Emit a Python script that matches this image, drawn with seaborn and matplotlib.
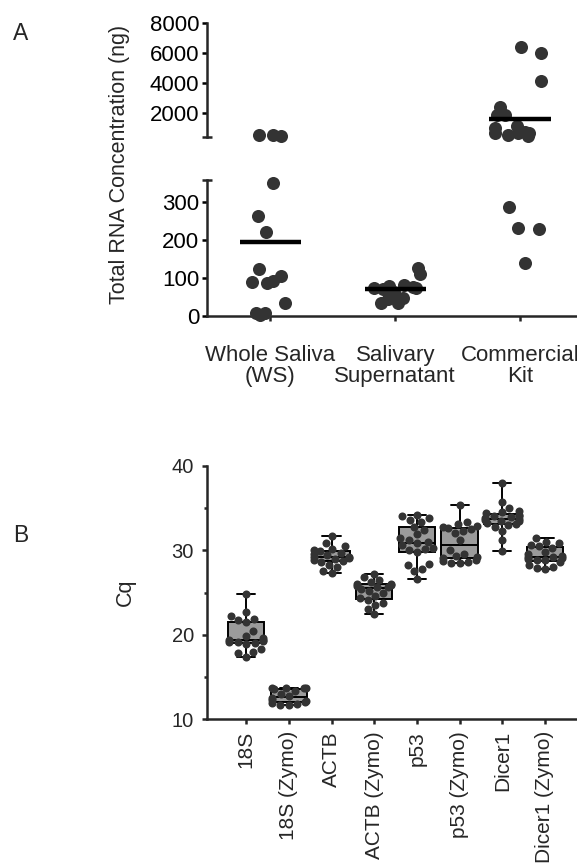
import numpy as np
import pandas as pd
import matplotlib
matplotlib.use("Agg")
import matplotlib.pyplot as plt
import seaborn as sns

# ---------------- data: panel A ----------------
groups = ["Whole Saliva\n(WS)", "Salivary\nSupernatant", "Commercial\nKit"]
ws_vals = [350, 264, 222, 124, 106, 88, 90, 93, 33, 3, 9, 9, 540, 470, 520]
ss_vals = [126, 111, 82, 73, 77, 80, 75, 47, 35, 44, 35, 58, 64, 70]
ck_vals = [287, 231, 229, 139, 6440, 6000, 4170, 2400, 1890, 1890, 1150,
           710, 670, 490, 560, 670, 780, 1050]
upper_ticks = [2000, 4000, 6000, 8000]
lower_ticks = [0, 100, 200, 300]

# ---------------- data: panel B ----------------
genes = ["18S", "18S (Zymo)", "ACTB", "ACTB (Zymo)", "p53", "p53 (Zymo)",
         "Dicer1", "Dicer1 (Zymo)"]
cq_18s = [17.4, 17.8, 18.0, 18.3, 18.9, 19.0, 19.1, 19.2, 19.3, 19.35, 19.4,
          19.6, 19.9, 20.5, 21.5, 21.7, 21.9, 22.2, 22.7, 24.8]
cq_18s_z = [11.7, 11.75, 11.8, 11.9, 12.1, 12.15, 12.3, 12.5, 12.8, 13.0,
            13.4, 13.6, 13.65, 13.7, 13.7, 13.75]
cq_actb = [27.3, 27.6, 28.0, 28.3, 28.6, 28.7, 28.9, 29.0, 29.1, 29.2, 29.25,
           29.4, 29.5, 29.7, 29.9, 30.0, 30.2, 30.5, 30.9, 31.7]
cq_actb_z = [22.4, 23.0, 23.5, 23.8, 24.1, 24.3, 24.6, 24.9, 25.2, 25.4, 25.6,
             25.7, 25.8, 25.9, 26.0, 26.05, 26.3, 26.5, 26.8, 27.2]
cq_p53 = [26.6, 27.5, 27.8, 28.2, 28.4, 29.8, 30.0, 30.1, 30.3, 30.6, 30.8,
          31.0, 31.2, 31.5, 31.9, 32.4, 32.8, 33.3, 33.6, 33.8, 34.0, 34.2]
cq_p53_z = [28.45, 28.5, 28.6, 28.7, 28.9, 29.1, 29.2, 29.3, 29.5, 30.0, 31.2,
            32.0, 32.3, 32.5, 32.6, 32.7, 32.9, 33.1, 33.3, 35.4]
cq_dicer = [29.9, 31.2, 32.3, 32.8, 33.0, 33.1, 33.2, 33.4, 33.5, 33.6, 33.7,
            33.8, 33.9, 34.0, 34.1, 34.2, 34.35, 34.5, 34.7, 35.0, 35.7, 38.0]
cq_dicer_z = [27.8, 27.9, 28.0, 28.3, 28.6, 28.8, 28.9, 29.0, 29.1, 29.15,
              29.2, 29.3, 29.5, 29.8, 30.3, 30.5, 30.6, 30.8, 31.0, 31.4]
cq_ticks = [10, 20, 30, 40]
cq_minor = [15, 25, 35]

# ---------------- style ----------------
sns.set_theme(style="white")
plt.rcParams["font.family"] = ["Liberation Sans", "DejaVu Sans"]
plt.rcParams["axes.linewidth"] = 1.8
FS = 16
DOT = "#333333"

dfA = pd.DataFrame({
    "group": [groups[0]] * len(ws_vals) + [groups[1]] * len(ss_vals) + [groups[2]] * len(ck_vals),
    "value": ws_vals + ss_vals + ck_vals,
})
dfB = pd.DataFrame({
    "gene": sum([[g] * len(v) for g, v in zip(genes, [cq_18s, cq_18s_z, cq_actb, cq_actb_z,
                                                        cq_p53, cq_p53_z, cq_dicer, cq_dicer_z])], []),
    "cq": cq_18s + cq_18s_z + cq_actb + cq_actb_z + cq_p53 + cq_p53_z + cq_dicer + cq_dicer_z,
})

W, H = 577, 868
fig = plt.figure(figsize=(W / 100, H / 100), dpi=100)
left = 206.5 / W
width = 1 - left

def fy(y):
    return 1 - y / H

ax_up = fig.add_axes([left, fy(137), width, fy(23.3) - fy(137)])
ax_lo = fig.add_axes([left, fy(316), width, fy(180) - fy(316)])
axB = fig.add_axes([left, fy(719.3), width, fy(465.7) - fy(719.3)])

UP_LIM = (420, 8000)
LO_LIM = (0, 358)
XL_A = (-0.512, 2.456)

np.random.seed(3)
sns.stripplot(data=dfA[dfA.value > 400], x="group", y="value", order=groups,
              color=DOT, size=9.4, jitter=0.21, ax=ax_up)
sns.stripplot(data=dfA[dfA.value < 400], x="group", y="value", order=groups,
              color=DOT, size=9.4, jitter=0.21, ax=ax_lo)

means = dfA.groupby("group")["value"].mean()
for ax, lim in ((ax_up, UP_LIM), (ax_lo, LO_LIM)):
    for c in ax.collections:
        c.set_clip_on(False)
    for i, g in enumerate(groups):
        if lim[0] <= means[g] <= lim[1]:
            ax.hlines(means[g], i - 0.245, i + 0.245, color="black", lw=3.2, zorder=5)
    ax.set_xlim(*XL_A)
    ax.set_xlabel("")
    ax.set_ylabel("")
    for s in ("top", "right"):
        ax.spines[s].set_visible(False)
    ax.tick_params(axis="y", which="major", direction="out", length=3.6, width=1.8,
                   pad=1.5, labelsize=FS, left=True, colors="black")
    ax.tick_params(axis="y", which="minor", direction="inout", length=7, width=1.8, left=True)

ax_up.set_ylim(*UP_LIM)
ax_up.set_yticks(upper_ticks)
ax_up.set_yticks([UP_LIM[0]], minor=True)
ax_up.spines["bottom"].set_visible(False)
ax_up.set_xticks([])

ax_lo.set_ylim(*LO_LIM)
ax_lo.set_yticks(lower_ticks)
ax_lo.set_yticks([LO_LIM[1]], minor=True)
ax_lo.set_xticks(range(len(groups)))
ax_lo.set_xticklabels(groups, linespacing=1.0)
ax_lo.tick_params(axis="x", direction="out", length=3.6, width=1.8, pad=17,
                  labelsize=FS, bottom=True)

fig.text(119 / W, fy(164), "Total RNA Concentration (ng)", rotation=90,
         ha="center", va="center", fontsize=FS - 0.5)
fig.text(21 / W, fy(33), "A", ha="center", va="center", fontsize=16.5)
fig.text(21 / W, fy(535), "B", ha="center", va="center", fontsize=16.5)

# ---------------- panel B ----------------
sns.boxplot(data=dfB, x="gene", y="cq", order=genes, color="#9b9b9b",
            saturation=1, width=0.85, whis=(0, 100), linecolor="black",
            linewidth=1.4, fliersize=0, ax=axB)
sns.swarmplot(data=dfB, x="gene", y="cq", order=genes, color=DOT, size=5.8, ax=axB)
for c in axB.collections:
    c.set_clip_on(False)
axB.set_xlim(-0.928, 7.75)
axB.set_ylim(10, 40)
axB.set_yticks(cq_ticks)
axB.set_yticks(cq_minor, minor=True)
axB.set_xlabel("")
axB.set_ylabel("Cq", fontsize=FS - 0.5)
axB.yaxis.set_label_coords(-0.19, 0.5)
for s in ("top", "right"):
    axB.spines[s].set_visible(False)
axB.tick_params(axis="y", which="major", direction="out", length=3.6, width=1.8,
                pad=5.5, labelsize=FS - 1.5, left=True)
axB.tick_params(axis="y", which="minor", direction="out", length=2.2, width=1.8, left=True)
axB.tick_params(axis="x", direction="out", length=3.6, width=1.8, pad=5,
                labelsize=FS - 1, bottom=True, labelrotation=90)

fig.savefig("out.png", dpi=100)
